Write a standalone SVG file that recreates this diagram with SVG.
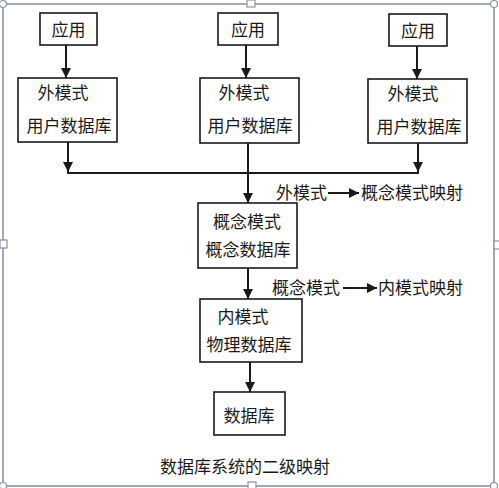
<svg xmlns="http://www.w3.org/2000/svg" width="499" height="488" viewBox="0 0 499 488">
<style>
.box{fill:#fff;stroke:#1a1a1a;stroke-width:1.6}
.t{font-family:"Liberation Sans","Noto Sans CJK SC",sans-serif;font-size:17px;fill:#1a1a1a;text-anchor:middle;dominant-baseline:central}
.tl{font-family:"Liberation Sans","Noto Sans CJK SC",sans-serif;font-size:17px;fill:#1a1a1a;dominant-baseline:central}
.ln{stroke:#1a1a1a;stroke-width:2;fill:none}
.frame{fill:none;stroke:#8c93a6;stroke-width:1.6}
.h{fill:#fff;stroke:#8c93a6;stroke-width:1.2}
</style>
<defs>
<marker id="ah" viewBox="0 0 10 10" refX="10" refY="5" markerWidth="5" markerHeight="5" markerUnits="strokeWidth" orient="auto">
<path d="M0,0 L10,5 L0,10 z" fill="#1a1a1a"/>
</marker>
</defs>
<rect width="499" height="488" fill="#fff"/>
<g id="frame">
<rect class="frame" x="3" y="4" width="491" height="482"/>
<rect class="h" x="247" y="0" width="8" height="7"/>
<rect class="h" x="0" y="240" width="7" height="8"/>
<rect class="h" x="494" y="241" width="6" height="8"/>
<rect class="h" x="248" y="482" width="8" height="7"/>
<circle class="h" cx="3" cy="4" r="3.5"/>
<circle class="h" cx="494" cy="4" r="3.5"/>
<circle class="h" cx="3" cy="486" r="3.5"/>
<circle class="h" cx="494" cy="486" r="3.5"/>
</g>
<g id="connectors">
<line class="ln" x1="66" y1="45" x2="66" y2="78" marker-end="url(#ah)"/>
<line class="ln" x1="246" y1="45" x2="246" y2="78" marker-end="url(#ah)"/>
<line class="ln" x1="417" y1="46" x2="417" y2="79" marker-end="url(#ah)"/>
<line class="ln" x1="68" y1="142" x2="68" y2="172" marker-end="url(#ah)"/>
<line class="ln" x1="418" y1="143" x2="418" y2="172" marker-end="url(#ah)"/>
<line class="ln" x1="67" y1="173" x2="419" y2="173"/>
<line class="ln" x1="248" y1="143" x2="248" y2="203" marker-end="url(#ah)"/>
<line class="ln" x1="248" y1="268" x2="248" y2="299" marker-end="url(#ah)"/>
<line class="ln" x1="250" y1="362" x2="250" y2="392" marker-end="url(#ah)"/>
<line class="ln" x1="328" y1="193" x2="359" y2="193" marker-end="url(#ah)"/>
<line class="ln" x1="343" y1="288" x2="377" y2="288" marker-end="url(#ah)"/>
</g>
<g id="app1"><rect class="box" x="40" y="13" width="57" height="32"/><text class="t" x="68.5" y="30">应用</text></g>
<g id="app2"><rect class="box" x="218" y="13" width="60" height="32"/><text class="t" x="248" y="30">应用</text></g>
<g id="app3"><rect class="box" x="389" y="14" width="58" height="32"/><text class="t" x="418" y="31">应用</text></g>
<g id="ext1"><rect class="box" x="18" y="78" width="99" height="64"/><text class="t" x="63" y="93">外模式</text><text class="t" x="69" y="126">用户数据库</text></g>
<g id="ext2"><rect class="box" x="200" y="78" width="99" height="65"/><text class="t" x="244" y="93">外模式</text><text class="t" x="250" y="126">用户数据库</text></g>
<g id="ext3"><rect class="box" x="368" y="79" width="99" height="64"/><text class="t" x="413" y="94">外模式</text><text class="t" x="419" y="127">用户数据库</text></g>
<g id="concept"><rect class="box" x="198" y="203" width="99" height="65"/><text class="t" x="247" y="222">概念模式</text><text class="t" x="248" y="250">概念数据库</text></g>
<g id="inner"><rect class="box" x="200" y="299" width="102" height="63"/><text class="t" x="243" y="317">内模式</text><text class="t" x="249" y="345">物理数据库</text></g>
<g id="db"><rect class="box" x="214" y="392" width="71" height="43"/><text class="t" x="249" y="416">数据库</text></g>
<g id="labels">
<text class="tl" x="276" y="193">外模式</text>
<text class="tl" x="361" y="193">概念模式映射</text>
<text class="tl" x="272" y="288">概念模式</text>
<text class="tl" x="378" y="288">内模式映射</text>
<text class="t" x="245" y="467">数据库系统的二级映射</text>
</g>
</svg>
